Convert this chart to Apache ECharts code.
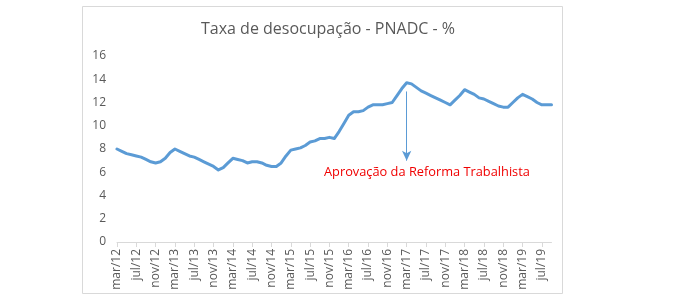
<!DOCTYPE html>
<html>
<head>
<meta charset="utf-8">
<script src="https://cdn.jsdelivr.net/npm/echarts@6/dist/echarts.min.js"></script>
<style>html,body{margin:0;padding:0;background:#fff}#c{width:687px;height:305px}</style>
</head>
<body>
<div id="c"></div>
<script>
const labelNames = ['jan','fev','mar','abr','mai','jun','jul','ago','set','out','nov','dez'];
const categories = [];
for (let y = 12; y <= 19; y++) {
  for (let m = 0; m < 12; m++) {
    if (y === 12 && m < 2) continue;
    if (y === 19 && m > 8) continue;
    categories.push(labelNames[m] + '/' + y);
  }
}
const rate2012 = [8.0, 7.8, 7.6, 7.5, 7.4, 7.3, 7.1, 6.9, 6.8, 6.9];
const rate2013 = [7.2, 7.7, 8.0, 7.8, 7.6, 7.4, 7.3, 7.1, 6.9, 6.7, 6.5, 6.2];
const rate2014 = [6.4, 6.8, 7.2, 7.1, 7.0, 6.8, 6.9, 6.9, 6.8, 6.6, 6.5, 6.5];
const rate2015 = [6.8, 7.4, 7.9, 8.0, 8.1, 8.3, 8.6, 8.7, 8.9, 8.9, 9.0, 8.9];
const rate2016 = [9.5, 10.2, 10.9, 11.2, 11.2, 11.3, 11.6, 11.8, 11.8, 11.8, 11.9, 12.0];
const rate2017 = [12.6, 13.2, 13.7, 13.6, 13.3, 13.0, 12.8, 12.6, 12.4, 12.2, 12.0, 11.8];
const rate2018 = [12.2, 12.6, 13.1, 12.9, 12.7, 12.4, 12.3, 12.1, 11.9, 11.7, 11.6, 11.6];
const rate2019 = [12.0, 12.4, 12.7, 12.5, 12.3, 12.0, 11.8, 11.8, 11.8];
const values = [].concat(rate2012, rate2013, rate2014, rate2015, rate2016, rate2017, rate2018, rate2019);
const yTicks = [0, 2, 4, 6, 8, 10, 12, 14, 16];
const titleText = 'Taxa de desocupação - PNADC - %';
const noteText = 'Aprovação da Reforma Trabalhista';
const arrowCategory = 'mar/17';
const arrowFrom = 12.95;
const arrowTo = 7.0;

const chart = echarts.init(document.getElementById('c'), null, {renderer: 'canvas'});
const font = 'Open Sans, Noto Sans, sans-serif';
chart.setOption({
  animation: false,
  backgroundColor: '#fff',
  title: {
    text: titleText, left: 323, top: 16, textAlign: 'center',
    textStyle: {fontFamily: font, fontSize: 16, fontWeight: 'normal', color: '#595959'}
  },
  grid: {left: 117, right: 135.5, top: 56, bottom: 63, containLabel: false},
  xAxis: {
    type: 'category', data: categories, boundaryGap: false,
    axisLine: {lineStyle: {color: '#d9d9d9', width: 1}},
    axisTick: {show: true, interval: 3, length: 5, lineStyle: {color: '#d9d9d9'}},
    axisLabel: {interval: 3, rotate: 90, color: '#595959', fontSize: 12, fontFamily: font, margin: 7},
    splitLine: {show: false}
  },
  yAxis: {
    type: 'value', min: yTicks[0], max: yTicks[yTicks.length - 1], interval: 2,
    axisLine: {show: false}, axisTick: {show: false}, splitLine: {show: false},
    axisLabel: {color: '#595959', fontSize: 12, fontFamily: font, margin: 11}
  },
  series: [{
    type: 'line', data: values, showSymbol: false, smooth: false,
    lineStyle: {color: '#5B9BD5', width: 3, cap: 'round', join: 'round'},
    markLine: {
      silent: true, symbol: ['none', 'arrow'], symbolSize: [7, 10],
      lineStyle: {color: '#5B9BD5', width: 1, type: 'solid'},
      label: {show: false},
      data: [[{coord: [arrowCategory, arrowFrom]}, {coord: [arrowCategory, arrowTo]}]]
    }
  }],
  graphic: [
    {type: 'rect', shape: {x: 82.5, y: 6.5, width: 480, height: 287}, style: {fill: 'none', stroke: '#d9d9d9', lineWidth: 1}, silent: true, z: -1},
    {type: 'text', left: 324, top: 166, style: {text: noteText, fill: '#F00000', font: '12.8px ' + font}}
  ]
});
</script>
</body>
</html>
